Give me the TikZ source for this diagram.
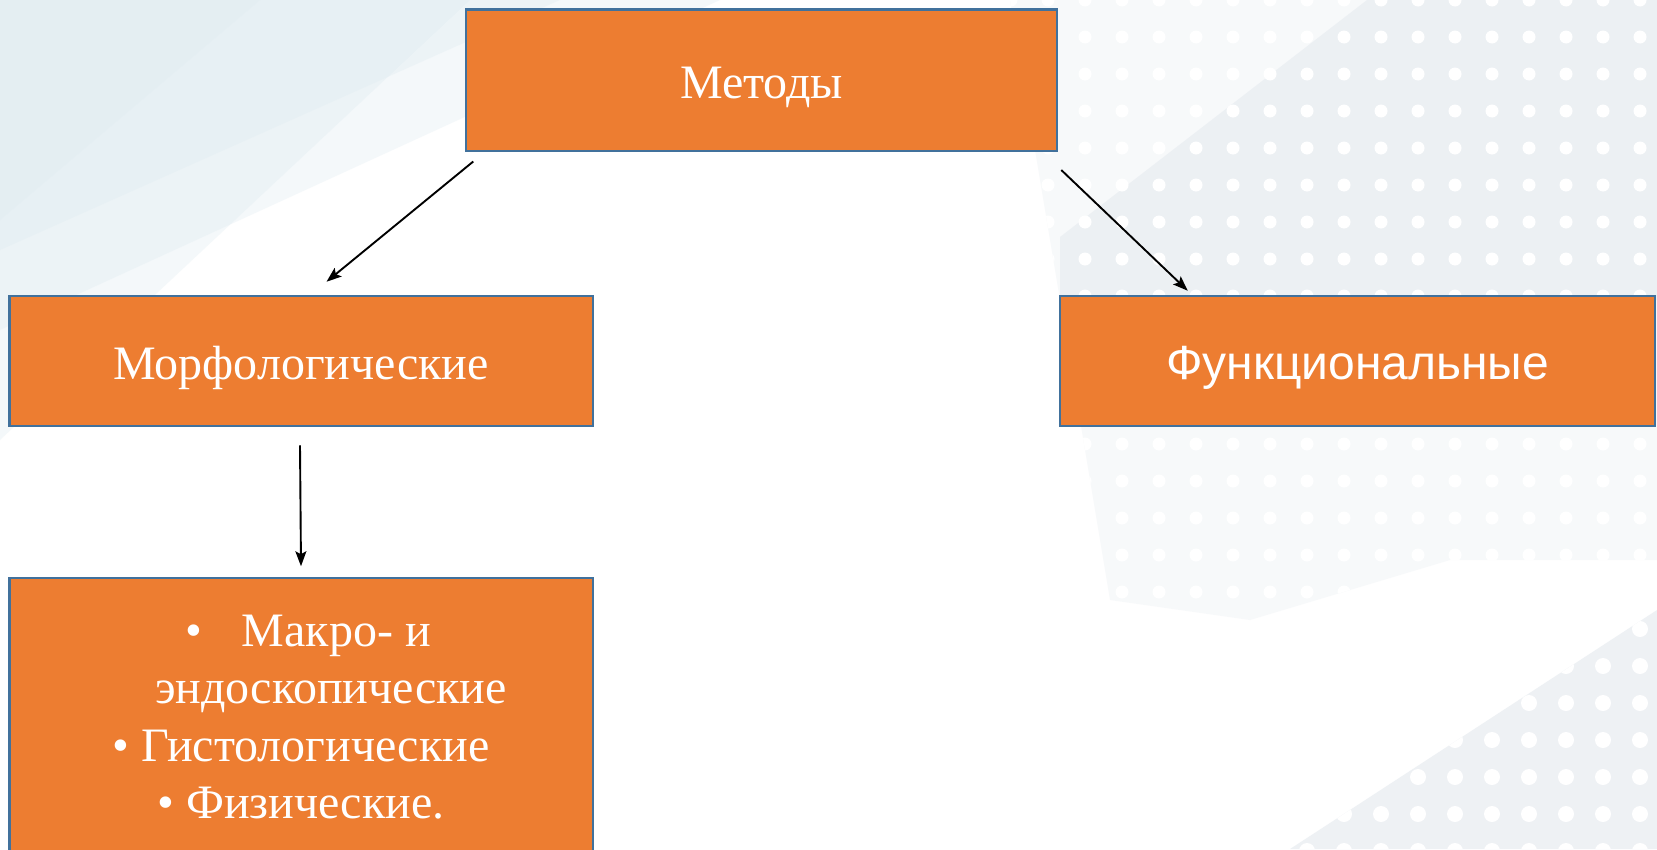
\documentclass[tikz,border=0pt]{standalone}
\usepackage{fontspec}
\setmainfont{Liberation Serif}
\newfontfamily\arialf{Liberation Sans}
\usetikzlibrary{arrows.meta}
\definecolor{boxfill}{HTML}{ED7D31}
\definecolor{boxline}{HTML}{41719C}
\definecolor{bgblue}{HTML}{DCEAF0}
\definecolor{bggray}{HTML}{EAEEF2}
\begin{document}
\begin{tikzpicture}[x=1pt,y=-1pt,
  mbox/.style={draw=boxline, line width=2.5pt, fill=boxfill, text=white, inner sep=0pt,
    font=\fontsize{48}{57.5}\selectfont},
  onel/.style={text height=36pt, text depth=0pt},
  conn/.style={-{Stealth[length=15pt,width=11pt,inset=3pt]}, line width=1.9pt, black},
  bgdot/.style={fill=white}]
\useasboundingbox (0,0) rectangle (1657,849);
\fill[white] (0,0) rectangle (1657,849);
% background: top-left soft blue bands
\fill[bgblue, opacity=0.30] (0,0) -- (720,0) -- (0,330) -- cycle;
\fill[bgblue, opacity=0.30] (0,0) -- (470,0) -- (0,440) -- cycle;
\fill[bgblue, opacity=0.30] (0,0) -- (560,0) -- (0,250) -- cycle;
\fill[bgblue, opacity=0.25] (0,0) -- (260,0) -- (0,220) -- cycle;
% background: gray dotted areas
\fill[bggray, opacity=0.35] (1010,0) -- (1657,0) -- (1657,560) -- (1450,560) -- (1250,620) -- (1110,600) -- (1060,300) -- cycle;
\fill[bggray, opacity=0.8] (1367,0) -- (1657,0) -- (1657,300) -- (1060,300) -- (1060,237) -- cycle;
\fill[bggray, opacity=0.8] (1290,849) -- (1657,610) -- (1657,849) -- cycle;
\begin{scope}
  \clip (1010,0) -- (1657,0) -- (1657,560) -- (1450,560) -- (1250,620) -- (1110,600) -- (1060,300) -- cycle;
  \foreach \i in {0,...,18} \foreach \j in {0,...,17}
    \fill[bgdot] ({1640-37*\i},{37*\j}) circle (6.5);
\end{scope}
\begin{scope}
  \clip (1290,849) -- (1657,610) -- (1657,849) -- cycle;
  \foreach \i in {0,...,10} \foreach \j in {16,...,23}
    \fill[bgdot] ({1640-37*\i},{37*\j}) circle (8);
\end{scope}
% boxes
\node[mbox, onel, minimum width=591pt, minimum height=141.5pt] (met) at (761.5,80) {Методы};
\node[mbox, onel, minimum width=583.5pt, minimum height=130pt] (morph) at (301,361) {Морфологические};
\node[mbox, onel, font=\arialf\fontsize{48}{57.5}\selectfont, minimum width=595pt, minimum height=130pt] (funk) at (1357.5,361) {Функциональные};
\node[mbox, minimum width=583.5pt, minimum height=278pt, align=center] (det) at (301,717)
  {\hspace*{14pt}•\hspace{40pt}Макро- и\\
   \hspace*{60pt}эндоскопические\\
   • Гистологические\\
   • Физические.};
% connectors
\draw[conn] ([xshift=8.5pt,yshift=-9.5pt]met.south west) -- ([xshift=25.5pt,yshift=13pt]morph.north);
\draw[conn] ([xshift=3pt,yshift=-18pt]met.south east) -- ([xshift=129pt,yshift=4pt]funk.north west);
\draw[conn] ([xshift=-1pt,yshift=-18pt]morph.south) -- ([yshift=10.5pt]det.north);
\end{tikzpicture}
\end{document}
